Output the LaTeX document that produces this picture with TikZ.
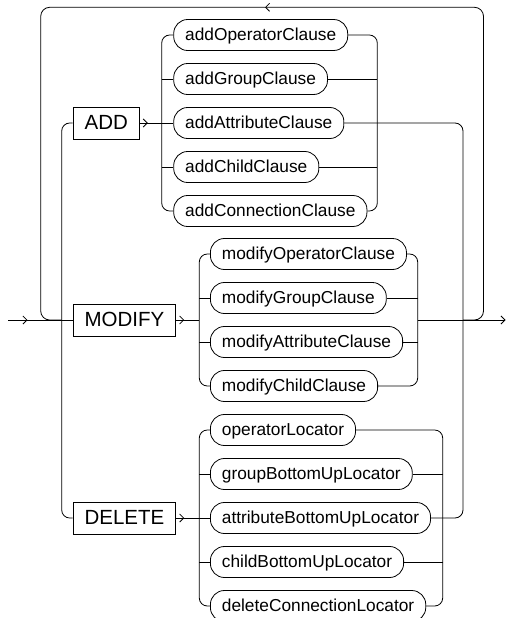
\documentclass[tikz,border=0pt]{standalone}
\usepackage{fontspec}
\setmainfont{Liberation Sans}
\usetikzlibrary{arrows.meta}

\begin{document}
\begin{tikzpicture}[x=1pt,y=-1pt,line width=0.8pt,
  kw/.style={draw,anchor=west,font=\fontsize{20.5}{24}\selectfont,minimum height=32pt,
    inner xsep=11.5pt,inner ysep=0pt,text height=14.7pt,text depth=1pt},
  clause/.style={draw,anchor=west,rounded corners=14pt,font=\fontsize{17.3}{20}\selectfont,
    minimum height=31pt,inner xsep=11.5pt,inner ysep=0pt,text height=12.6pt,text depth=2pt},
  tip/.style={-{Straight Barb[length=4pt,width=8pt]}}]
  \useasboundingbox (0,0) rectangle (506,618);
  \coordinate (start) at (8,320); \coordinate (finish) at (505.5,320);
  \coordinate (ltop) at (40.7,7.3); \coordinate (rtop) at (483.5,7.3);
  \coordinate (lsplit) at (61.7,320); \coordinate (mjoin) at (463,320);
  \coordinate (abr) at (161.7,123); \coordinate (acol) at (377.3,123);
  \coordinate (mbr) at (199.3,320); \coordinate (mcol) at (417.7,320);
  \coordinate (dbr) at (199.3,518); \coordinate (dcol) at (442.7,518);

  \node[kw] (add)    at (72.7,123) {ADD};
  \node[kw] (modify) at (72.7,320) {MODIFY};
  \node[kw] (delete) at (72.7,518) {DELETE};

  \node[clause] (addop)    at (173.3,35)  {addOperatorClause};
  \node[clause] (addgrp)   at (173.3,79)  {addGroupClause};
  \node[clause] (addattr)  at (173.3,123) {addAttributeClause};
  \node[clause] (addchild) at (173.3,167) {addChildClause};
  \node[clause] (addconn)  at (173.3,211) {addConnectionClause};

  \node[clause] (modop)    at (210,254) {modifyOperatorClause};
  \node[clause] (modgrp)   at (210,298) {modifyGroupClause};
  \node[clause] (modattr)  at (210,342) {modifyAttributeClause};
  \node[clause] (modchild) at (210,386) {modifyChildClause};

  \node[clause] (opl)    at (210,430) {operatorLocator};
  \node[clause] (grpl)   at (210,474) {groupBottomUpLocator};
  \node[clause] (attrl)  at (210,518) {attributeBottomUpLocator};
  \node[clause] (childl) at (210,562) {childBottomUpLocator};
  \node[clause] (connl)  at (210,606) {deleteConnectionLocator};

  % main line and loop back
  \draw[tip] (start) -- ++(19.5,0);
  \draw (start) -- (modify.west);
  \draw[tip,rounded corners=9pt] (mjoin) -| (rtop) -- (265,7.3);
  \draw[rounded corners=9pt] (265,7.3) -- (ltop) |- (lsplit);
  \draw[rounded corners=8pt] (add.west) -| (lsplit) |- (delete.west);

  % ADD
  \draw (add.east) -- (addattr.west);
  \draw[tip] (add.east) -- ++(8,0);
  \draw[rounded corners=8pt] (addop.west) -| (abr) |- (addconn.west);
  \draw[rounded corners=8pt] (addop.east) -| (acol) |- (addconn.east);
  \foreach \n in {addgrp,addchild} {
    \draw (\n.west -| abr) -- (\n.west);
    \draw (\n.east) -- (\n.east -| acol);
  }
  \draw[rounded corners=8pt] (addattr.east) -| (mjoin) |- (attrl.east);

  % MODIFY
  \draw (modify.east) -- (mbr);
  \draw[tip] (modify.east) -- ++(8,0);
  \draw[rounded corners=8pt] (modop.west) -| (mbr) |- (modchild.west);
  \draw[rounded corners=8pt] (modop.east) -| (mcol) |- (modchild.east);
  \foreach \n in {modgrp,modattr} {
    \draw (\n.west -| mbr) -- (\n.west);
    \draw (\n.east) -- (\n.east -| mcol);
  }
  \draw[tip] (mcol) -- (finish);

  % DELETE
  \draw (delete.east) -- (attrl.west);
  \draw[tip] (delete.east) -- ++(8,0);
  \draw[rounded corners=8pt] (opl.west) -| (dbr) |- (connl.west);
  \draw[rounded corners=8pt] (opl.east) -| (dcol) |- (connl.east);
  \foreach \n in {grpl,childl} {
    \draw (\n.west -| dbr) -- (\n.west);
    \draw (\n.east) -- (\n.east -| dcol);
  }
\end{tikzpicture}
\end{document}
